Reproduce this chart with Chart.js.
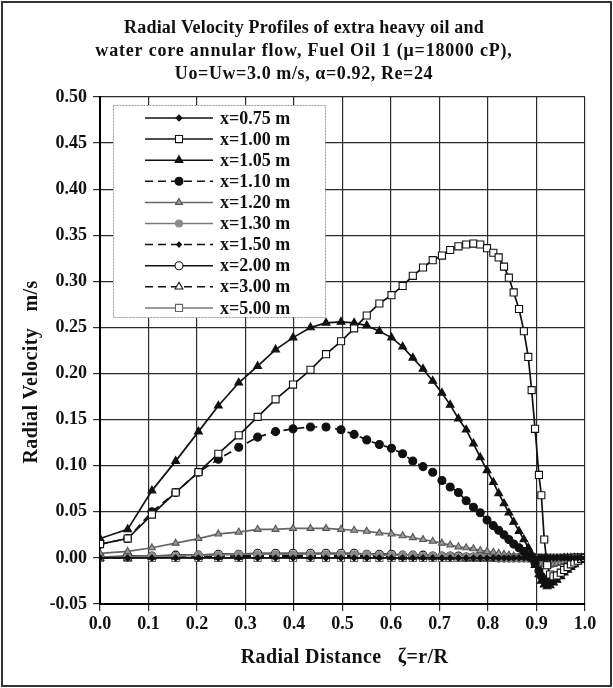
<!DOCTYPE html>
<html>
<head>
<meta charset="utf-8">
<title>Radial Velocity Profiles</title>
<script src="https://cdn.jsdelivr.net/npm/chart.js@4.4.0/dist/chart.umd.min.js"></script>
<style>
  html, body { margin: 0; padding: 0; background: #fff; }
  #wrap { width: 613px; height: 688px; position: relative; }
  canvas { display: block; }
</style>
</head>
<body>
<div id="wrap"><canvas id="c" width="613" height="688"></canvas></div>
<script>
// Radial positions zeta = r/R (shared by every profile)
const zeta = [
  0.000, 0.057, 0.107, 0.156, 0.203, 0.244, 0.286, 0.325, 0.362, 0.398,
  0.434, 0.466, 0.497, 0.524, 0.550, 0.576, 0.601, 0.624, 0.645, 0.666,
  0.686, 0.705, 0.722, 0.739, 0.755, 0.770, 0.784, 0.798, 0.811, 0.822,
  0.833, 0.843, 0.853, 0.864, 0.874, 0.883, 0.890, 0.897, 0.905, 0.910,
  0.916, 0.922, 0.928, 0.935, 0.942, 0.950, 0.957, 0.964, 0.971, 0.978,
  0.985, 0.992, 1.000
];

// Radial velocity (m/s) at each axial station
const v_x075 = [
  0.000, 0.000, 0.000, 0.000, 0.000, 0.000, 0.000, 0.000, 0.000, 0.000,
  0.000, 0.000, 0.000, 0.000, 0.000, 0.000, 0.000, 0.000, 0.000, 0.000,
  0.000, 0.000, 0.000, 0.000, 0.000, 0.000, 0.000, 0.000, 0.000, 0.000,
  0.000, 0.000, 0.000, 0.000, 0.000, 0.000, 0.000, 0.000, 0.000, 0.000,
  0.000, 0.000, 0.000, 0.000, 0.000, 0.000, 0.000, 0.000, 0.000, 0.000,
  0.000, 0.000, 0.000
];
const v_x100 = [
  0.015, 0.021, 0.047, 0.071, 0.093, 0.113, 0.133, 0.153, 0.172, 0.188,
  0.204, 0.221, 0.235, 0.249, 0.263, 0.276, 0.285, 0.295, 0.306, 0.315,
  0.323, 0.328, 0.334, 0.338, 0.340, 0.341, 0.340, 0.336, 0.331, 0.326,
  0.316, 0.304, 0.288, 0.270, 0.246, 0.218, 0.182, 0.140, 0.090, 0.068,
  0.020, -0.008, -0.018, -0.020, -0.019, -0.016, -0.013, -0.010, -0.007, -0.005,
  -0.003, -0.001, 0.000
];
const v_x105 = [
  0.021, 0.031, 0.073, 0.105, 0.137, 0.165, 0.190, 0.208, 0.226, 0.239,
  0.250, 0.255, 0.256, 0.255, 0.252, 0.246, 0.239, 0.229, 0.217, 0.205,
  0.192, 0.179, 0.166, 0.151, 0.139, 0.124, 0.109, 0.095, 0.082, 0.070,
  0.059, 0.049, 0.039, 0.029, 0.020, 0.011, 0.004, -0.008, -0.018, -0.025,
  -0.029, -0.031, -0.030, -0.027, -0.024, -0.020, -0.016, -0.013, -0.010, -0.007,
  -0.004, -0.002, 0.000
];
const v_x110 = [
  0.015, 0.021, 0.050, 0.071, 0.093, 0.107, 0.120, 0.131, 0.137, 0.140,
  0.142, 0.142, 0.139, 0.134, 0.128, 0.123, 0.119, 0.113, 0.105, 0.099,
  0.093, 0.084, 0.077, 0.071, 0.062, 0.055, 0.049, 0.041, 0.035, 0.030,
  0.025, 0.020, 0.015, 0.011, 0.007, 0.003, 0.000, -0.006, -0.014, -0.020,
  -0.024, -0.026, -0.025, -0.023, -0.020, -0.017, -0.014, -0.011, -0.008, -0.006,
  -0.003, -0.001, 0.000
];
const v_x120 = [
  0.005, 0.007, 0.011, 0.016, 0.021, 0.026, 0.028, 0.031, 0.031, 0.032,
  0.032, 0.032, 0.031, 0.030, 0.029, 0.027, 0.026, 0.024, 0.022, 0.020,
  0.018, 0.016, 0.014, 0.012, 0.011, 0.010, 0.008, 0.007, 0.006, 0.005,
  0.004, 0.003, 0.002, 0.001, 0.001, 0.000, 0.000, -0.002, -0.004, -0.006,
  -0.007, -0.008, -0.008, -0.007, -0.006, -0.005, -0.004, -0.003, -0.002, -0.002,
  -0.001, -0.001, 0.000
];
const v_x130 = [
  0.001, 0.001, 0.002, 0.002, 0.003, 0.003, 0.004, 0.004, 0.004, 0.004,
  0.004, 0.004, 0.004, 0.004, 0.004, 0.003, 0.003, 0.003, 0.003, 0.002,
  0.002, 0.002, 0.002, 0.001, 0.001, 0.001, 0.001, 0.001, 0.001, 0.000,
  0.000, 0.000, 0.000, 0.000, 0.000, 0.000, 0.000, -0.001, -0.002, -0.003,
  -0.004, -0.004, -0.004, -0.004, -0.003, -0.003, -0.002, -0.002, -0.001, -0.001,
  -0.001, 0.000, 0.000
];
const v_x150 = [
  0.000, 0.001, 0.001, 0.002, 0.002, 0.002, 0.003, 0.003, 0.003, 0.003,
  0.003, 0.003, 0.003, 0.003, 0.003, 0.002, 0.002, 0.002, 0.002, 0.002,
  0.001, 0.001, 0.001, 0.001, 0.001, 0.001, 0.000, 0.000, 0.000, 0.000,
  0.000, 0.000, 0.000, 0.000, 0.000, 0.000, 0.000, -0.001, -0.001, -0.002,
  -0.002, -0.003, -0.003, -0.003, -0.002, -0.002, -0.002, -0.001, -0.001, -0.001,
  0.000, 0.000, 0.000
];
const v_x200 = [
  0.001, 0.002, 0.002, 0.003, 0.003, 0.004, 0.004, 0.005, 0.005, 0.005,
  0.005, 0.005, 0.005, 0.005, 0.004, 0.004, 0.004, 0.003, 0.003, 0.003,
  0.002, 0.002, 0.002, 0.002, 0.001, 0.001, 0.001, 0.001, 0.001, 0.000,
  0.000, 0.000, 0.000, 0.000, 0.000, 0.000, 0.000, -0.001, -0.001, -0.001,
  -0.002, -0.002, -0.002, -0.002, -0.002, -0.001, -0.001, -0.001, -0.001, 0.000,
  0.000, 0.000, 0.000
];
const v_x300 = [
  0.000, 0.000, 0.001, 0.001, 0.001, 0.001, 0.001, 0.002, 0.002, 0.002,
  0.002, 0.002, 0.002, 0.002, 0.002, 0.002, 0.001, 0.001, 0.001, 0.001,
  0.001, 0.001, 0.001, 0.001, 0.000, 0.000, 0.000, 0.000, 0.000, 0.000,
  0.000, 0.000, 0.000, 0.000, 0.000, 0.000, 0.000, 0.000, -0.001, -0.001,
  -0.001, -0.001, -0.001, -0.001, -0.001, -0.001, 0.000, 0.000, 0.000, 0.000,
  0.000, 0.000, 0.000
];
const v_x500 = [
  0.000, 0.000, 0.000, 0.000, 0.000, 0.000, 0.000, 0.000, 0.000, 0.000,
  0.000, 0.000, 0.000, 0.000, 0.000, 0.000, 0.000, 0.000, 0.000, 0.000,
  0.000, 0.000, 0.000, 0.000, 0.000, 0.000, 0.000, 0.000, 0.000, 0.000,
  0.000, 0.000, 0.000, 0.000, 0.000, 0.000, 0.000, 0.000, 0.000, 0.000,
  0.000, 0.000, 0.000, 0.000, 0.000, 0.000, 0.000, 0.000, 0.000, 0.000,
  0.000, 0.000, 0.000
];

const seriesLabels = ['x=0.75 m', 'x=1.00 m', 'x=1.05 m', 'x=1.10 m', 'x=1.20 m',
                      'x=1.30 m', 'x=1.50 m', 'x=2.00 m', 'x=3.00 m', 'x=5.00 m'];
const seriesValues = [v_x075, v_x100, v_x105, v_x110, v_x120,
                      v_x130, v_x150, v_x200, v_x300, v_x500];

const xTickValues = [0.0, 0.1, 0.2, 0.3, 0.4, 0.5, 0.6, 0.7, 0.8, 0.9, 1.0];
const yTickValues = [-0.05, 0.00, 0.05, 0.10, 0.15, 0.20, 0.25, 0.30, 0.35, 0.40, 0.45, 0.50];

const titleLines = [
  'Radial Velocity Profiles of extra heavy oil and',
  'water core annular flow, Fuel Oil 1 (\u03bc=18000 cP),',
  'Uo=Uw=3.0 m/s, \u03b1=0.92, Re=24'
];
const xAxisTitle = 'Radial Distance   \u03b6=r/R';
const yAxisTitle = 'Radial Velocity   m/s';

const SERIF = '"Liberation Serif", "Times New Roman", "DejaVu Serif", serif';
const INK = '#111';
const GREY = '#7a7a7a';

// Line / marker look of each station
const styles = [
  { color: INK,  dash: [],     point: 'rectRot',  r: 3,   fill: INK,    stroke: INK },
  { color: INK,  dash: [],     point: 'rect',     r: 5,   fill: '#fff', stroke: INK },
  { color: INK,  dash: [],     point: 'triangle', r: 4.5, fill: INK,    stroke: INK },
  { color: INK,  dash: [8, 5], point: 'circle',   r: 4,   fill: INK,    stroke: INK },
  { color: '#666', dash: [],   point: 'triangle', r: 4,   fill: '#9a9a9a', stroke: '#555' },
  { color: GREY, dash: [],     point: 'circle',   r: 3.5, fill: '#8a8a8a', stroke: '#8a8a8a' },
  { color: INK,  dash: [8, 5], point: 'rectRot',  r: 2.5, fill: INK,    stroke: INK },
  { color: INK,  dash: [],     point: 'circle',   r: 4,   fill: '#fff', stroke: INK },
  { color: INK,  dash: [8, 5], point: 'triangle', r: 4.5, fill: '#fff', stroke: INK },
  { color: GREY, dash: [],     point: 'rect',     r: 5,   fill: '#fff', stroke: '#666' }
];

const datasets = seriesLabels.map((label, k) => {
  const s = styles[k];
  return {
    label: label,
    data: zeta.map((z, i) => ({ x: z, y: seriesValues[k][i] })),
    borderColor: s.color,
    borderWidth: 1.7,
    borderDash: s.dash,
    tension: 0,
    pointStyle: s.point,
    pointRadius: s.r,
    pointHoverRadius: s.r,
    pointBackgroundColor: s.fill,
    pointBorderColor: s.stroke,
    pointBorderWidth: 1.1,
    fill: false
  };
});

// Outer frame, title block and axis titles
const frameAndText = {
  id: 'frameAndText',
  beforeDraw(chart) {
    const ctx = chart.ctx;
    ctx.save();
    ctx.fillStyle = '#fff';
    ctx.fillRect(0, 0, chart.width, chart.height);
    ctx.restore();
  },
  afterDraw(chart) {
    const ctx = chart.ctx;
    const area = chart.chartArea;
    ctx.save();
    ctx.strokeStyle = '#333';
    ctx.lineWidth = 2;
    ctx.strokeRect(2, 2, chart.width - 4, chart.height - 4);

    ctx.fillStyle = INK;
    ctx.textAlign = 'center';
    ctx.textBaseline = 'middle';
    ctx.font = 'bold 18px ' + SERIF;
    const spacing = ['0.2px', '0.8px', '0.6px'];
    titleLines.forEach((t, i) => {
      ctx.letterSpacing = spacing[i];
      ctx.fillText(t, 304, 28 + i * 23);
    });

    ctx.font = 'bold 20px ' + SERIF;
    ctx.letterSpacing = '0.4px';
    ctx.fillText(xAxisTitle, (area.left + area.right) / 2 + 2, 658);

    ctx.translate(32, 372);
    ctx.rotate(-Math.PI / 2);
    ctx.fillText(yAxisTitle, 0, 0);
    ctx.letterSpacing = '0px';
    ctx.restore();
  }
};

// Boxed legend inside the plot, each entry showing line style and marker
const boxedLegend = {
  id: 'boxedLegend',
  afterDatasetsDraw(chart) {
    const ctx = chart.ctx;
    const area = chart.chartArea;
    const bx = area.left + 13, by = area.top + 8, bw = 212, bh = 212;
    ctx.save();
    ctx.fillStyle = '#fff';
    ctx.fillRect(bx, by, bw, bh);
    ctx.strokeStyle = '#999';
    ctx.lineWidth = 1;
    ctx.setLineDash([2, 1]);
    ctx.strokeRect(bx + 0.5, by + 0.5, bw, bh);
    ctx.setLineDash([]);

    const rowH = 21.1;
    chart.data.datasets.forEach((ds, i) => {
      const y = by + 13 + i * rowH;
      const x0 = bx + 32, x1 = bx + 100, xm = (x0 + x1) / 2;
      ctx.strokeStyle = ds.borderColor;
      ctx.lineWidth = 1.5;
      ctx.setLineDash(ds.borderDash);
      ctx.beginPath();
      ctx.moveTo(x0, y);
      ctx.lineTo(x1, y);
      ctx.stroke();
      ctx.setLineDash([]);

      ctx.fillStyle = ds.pointBackgroundColor;
      ctx.strokeStyle = ds.pointBorderColor;
      ctx.lineWidth = ds.pointBorderWidth;
      Chart.helpers.drawPoint(ctx, {
        pointStyle: ds.pointStyle, rotation: 0,
        radius: ds.pointRadius, borderWidth: ds.pointBorderWidth
      }, xm, y);

      ctx.fillStyle = INK;
      ctx.font = 'bold 18px ' + SERIF;
      ctx.textAlign = 'left';
      ctx.textBaseline = 'middle';
      ctx.fillText(ds.label, x1 + 7, y + 1);
    });
    ctx.restore();
  }
};

const gridStyle = { color: '#2b2b2b', lineWidth: 1.2, tickLength: 7, drawTicks: true };
const tickFont = { family: SERIF, size: 18, weight: 'bold' };

new Chart(document.getElementById('c'), {
  type: 'line',
  data: { datasets: datasets },
  options: {
    responsive: false,
    animation: false,
    devicePixelRatio: 1,
    layout: { padding: { top: 97, right: 28, bottom: 0, left: 0 } },
    plugins: {
      legend: { display: false },
      title: { display: false },
      tooltip: { enabled: false }
    },
    scales: {
      x: {
        type: 'linear',
        min: 0, max: 1,
        afterBuildTicks(scale) { scale.ticks = xTickValues.map(v => ({ value: v })); },
        afterFit(scale) { scale.height = 84; },
        ticks: {
          color: INK, font: tickFont, padding: 3, maxRotation: 0,
          callback: v => Number(v).toFixed(1)
        },
        grid: gridStyle,
        border: { display: true, color: '#000', width: 2 }
      },
      y: {
        type: 'linear',
        min: -0.05, max: 0.5,
        afterBuildTicks(scale) { scale.ticks = yTickValues.map(v => ({ value: v })); },
        afterFit(scale) { scale.width = 100; },
        ticks: {
          color: INK, font: tickFont, padding: 6,
          callback: v => Number(v).toFixed(2)
        },
        grid: gridStyle,
        border: { display: true, color: '#000', width: 2 }
      }
    }
  },
  plugins: [frameAndText, boxedLegend]
});
</script>
</body>
</html>
